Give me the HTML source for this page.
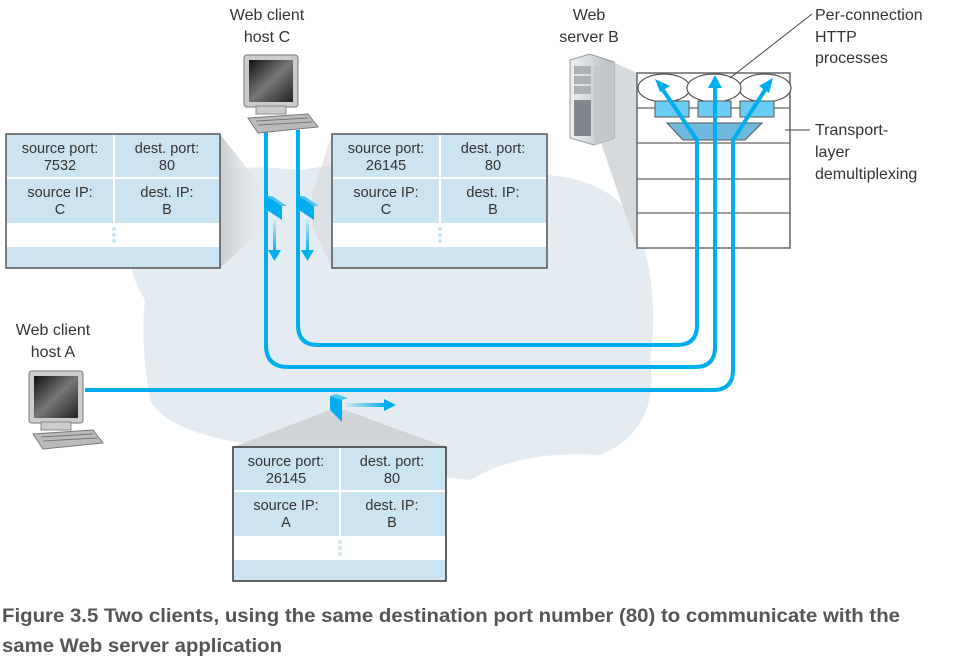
<!DOCTYPE html>
<html><head><meta charset="utf-8"><style>
html,body{margin:0;padding:0;background:#fff;}
svg{display:block;}
text{font-family:"Liberation Sans",sans-serif;}
</style></head><body>
<svg width="954" height="661" viewBox="0 0 954 661" xmlns="http://www.w3.org/2000/svg">
<defs>
<linearGradient id="scr" x1="0" y1="0" x2="1" y2="1"><stop offset="0" stop-color="#111"/><stop offset="0.5" stop-color="#777"/><stop offset="1" stop-color="#222"/></linearGradient>
<linearGradient id="shl" x1="0" y1="0" x2="1" y2="0"><stop offset="0" stop-color="#c8ccd0"/><stop offset="1" stop-color="#e8ecef" stop-opacity="0.3"/></linearGradient>
<linearGradient id="fadeD" x1="0" y1="0" x2="0" y2="1"><stop offset="0" stop-color="#00aeef" stop-opacity="0.1"/><stop offset="1" stop-color="#00aeef"/></linearGradient>
<linearGradient id="fadeR" x1="0" y1="0" x2="1" y2="0"><stop offset="0" stop-color="#00aeef" stop-opacity="0.1"/><stop offset="1" stop-color="#00aeef"/></linearGradient>
<linearGradient id="srv" x1="0" y1="0" x2="1" y2="0"><stop offset="0" stop-color="#eef0f2"/><stop offset="1" stop-color="#b5bbc0"/></linearGradient>
</defs>
<path d="M120 190 Q200 160 300 170 Q420 150 520 175 Q610 170 640 230 Q660 300 650 360 Q660 430 600 455 Q520 450 470 480 Q380 470 300 450 Q170 440 150 400 Q140 340 145 300 Q120 260 140 240 Q110 215 120 190Z" fill="#e4ecf2"/>
<polygon points="220,134 220,268 268,225 268,195" fill="url(#shl)"/>
<polygon points="332,134 332,268 312,225 312,195" fill="#d5d9dc" opacity="0.6"/>
<polygon points="233,447 446,447 345,410 330,410" fill="#d0d4d8"/>
<polygon points="613,62 637,73 637,248 600,140" fill="#d7dadc"/>
<g>
<rect x="6" y="134" width="214" height="134" fill="#cce4f1" stroke="#555" stroke-width="1.5"/>
<rect x="7" y="223" width="212" height="24" fill="#fff"/>
<line x1="7" y1="178" x2="219" y2="178" stroke="#fff" stroke-width="2"/>
<line x1="114" y1="135" x2="114" y2="223" stroke="#fff" stroke-width="2"/>
<circle cx="114" cy="229" r="2" fill="#cce4f1"/><circle cx="114" cy="235" r="2" fill="#cce4f1"/><circle cx="114" cy="241" r="2" fill="#cce4f1"/>
<g font-size="14.5" fill="#333" text-anchor="middle">
<text x="60" y="153">source port:</text><text x="60" y="170">7532</text>
<text x="167" y="153">dest. port:</text><text x="167" y="170">80</text>
<text x="60" y="197">source IP:</text><text x="60" y="214">C</text>
<text x="167" y="197">dest. IP:</text><text x="167" y="214">B</text>
</g></g>
<g>
<rect x="332" y="134" width="215" height="134" fill="#cce4f1" stroke="#555" stroke-width="1.5"/>
<rect x="333" y="223" width="213" height="24" fill="#fff"/>
<line x1="333" y1="178" x2="546" y2="178" stroke="#fff" stroke-width="2"/>
<line x1="440" y1="135" x2="440" y2="223" stroke="#fff" stroke-width="2"/>
<circle cx="440" cy="229" r="2" fill="#cce4f1"/><circle cx="440" cy="235" r="2" fill="#cce4f1"/><circle cx="440" cy="241" r="2" fill="#cce4f1"/>
<g font-size="14.5" fill="#333" text-anchor="middle">
<text x="386" y="153">source port:</text><text x="386" y="170">26145</text>
<text x="493" y="153">dest. port:</text><text x="493" y="170">80</text>
<text x="386" y="197">source IP:</text><text x="386" y="214">C</text>
<text x="493" y="197">dest. IP:</text><text x="493" y="214">B</text>
</g></g>
<g>
<rect x="233" y="447" width="213" height="134" fill="#cce4f1" stroke="#333" stroke-width="1.5"/>
<rect x="234" y="536" width="211" height="24" fill="#fff"/>
<line x1="234" y1="491" x2="445" y2="491" stroke="#fff" stroke-width="2"/>
<line x1="340" y1="448" x2="340" y2="536" stroke="#fff" stroke-width="2"/>
<circle cx="340" cy="542" r="2" fill="#cce4f1"/><circle cx="340" cy="548" r="2" fill="#cce4f1"/><circle cx="340" cy="554" r="2" fill="#cce4f1"/>
<g font-size="14.5" fill="#333" text-anchor="middle">
<text x="286" y="466">source port:</text><text x="286" y="483">26145</text>
<text x="392" y="466">dest. port:</text><text x="392" y="483">80</text>
<text x="286" y="510">source IP:</text><text x="286" y="527">A</text>
<text x="392" y="510">dest. IP:</text><text x="392" y="527">B</text>
</g></g>
<rect x="637" y="73" width="153" height="175" fill="#fff" stroke="#666" stroke-width="1.5"/>
<g stroke="#666" stroke-width="1.2"><line x1="637" y1="108" x2="790" y2="108"/><line x1="637" y1="143" x2="790" y2="143"/><line x1="637" y1="179" x2="790" y2="179"/><line x1="637" y1="213" x2="790" y2="213"/></g>
<g fill="#fff" stroke="#555" stroke-width="1.2">
<ellipse cx="664" cy="88" rx="26" ry="14"/><ellipse cx="765" cy="88" rx="26" ry="14"/><ellipse cx="714" cy="88" rx="27" ry="14"/>
</g>
<g fill="#6ccdf4" stroke="#555" stroke-width="1">
<rect x="655" y="101" width="34" height="16"/><rect x="698" y="101" width="33" height="16"/><rect x="740" y="101" width="34" height="16"/>
</g>
<polygon points="667,123 762,123 745,140 683,140" fill="#6fb9de" stroke="#555" stroke-width="1"/>
<g fill="none" stroke="#00aeef" stroke-width="4">
<path d="M298 130 V325 Q298 345 318 345 H677 Q697 345 697 325 V140 L663 90"/>
<path d="M266 130 V345 Q266 367 288 367 H695 Q715 367 715 347 V85"/>
<path d="M85 390 H713 Q733 390 733 370 V140 L765 90"/>
</g>
<g fill="#00aeef">
<polygon points="655,79 670,86 660,92"/>
<polygon points="715,75 722,88 708,88"/>
<polygon points="773,78 769,93 759,86"/>
</g>
<polygon points="267,196 282,206 282,220 267,210" fill="#00aeef"/>
<polygon points="267,196 272,196 287,206 282,206" fill="#4cc5f3"/>
<polygon points="299,196 314,206 314,220 299,210" fill="#00aeef"/>
<polygon points="299,196 304,196 319,206 314,206" fill="#4cc5f3"/>
<rect x="273" y="220" width="3" height="32" fill="url(#fadeD)"/>
<polygon points="268,250 281,250 274.5,261" fill="#00aeef"/>
<rect x="306" y="220" width="3" height="32" fill="url(#fadeD)"/>
<polygon points="301,250 314,250 307.5,261" fill="#00aeef"/>
<polygon points="330,396 342,400 342,422 330,410" fill="#00aeef"/>
<polygon points="330,396 336,394 348,398 342,400" fill="#4cc5f3"/>
<rect x="346" y="403" width="40" height="4" fill="url(#fadeR)"/>
<polygon points="384,399 396,405 384,411" fill="#00aeef"/>
<g id="pc">
<rect x="244" y="55" width="54" height="52" rx="3" fill="#ccc" stroke="#777"/>
<rect x="249" y="60" width="44" height="42" fill="url(#scr)"/>
<rect x="256" y="106" width="30" height="8" fill="#ccc" stroke="#888"/>
<polygon points="248,118 308,114 318,127 258,133" fill="#bbb" stroke="#777"/>
<line x1="256" y1="121" x2="308" y2="118" stroke="#777"/><line x1="258" y1="125" x2="312" y2="122" stroke="#777"/>
</g>
<use href="#pc" transform="translate(-215,316)"/>
<polygon points="570,60 590,54 614,62 614,138 594,145 570,138" fill="url(#srv)" stroke="#999"/>
<polygon points="594,66 614,62 614,138 594,145" fill="#c2c8cc"/>
<rect x="574" y="66" width="17" height="8" fill="#aab2b8"/><rect x="574" y="76" width="17" height="8" fill="#aab2b8"/><rect x="574" y="86" width="17" height="8" fill="#aab2b8"/>
<rect x="574" y="100" width="17" height="36" fill="#7f878c"/>
<g font-size="16" fill="#333" text-anchor="middle">
<text x="267" y="20">Web client</text><text x="267" y="42">host C</text>
<text x="589" y="20">Web</text><text x="589" y="42">server B</text>
<text x="53" y="335">Web client</text><text x="53" y="357">host A</text>
</g>
<g font-size="16" fill="#333">
<text x="815" y="20">Per-connection</text><text x="815" y="42">HTTP</text><text x="815" y="63">processes</text>
<text x="815" y="135">Transport-</text><text x="815" y="157">layer</text><text x="815" y="179">demultiplexing</text>
</g>
<line x1="730" y1="78" x2="812" y2="14" stroke="#444" stroke-width="1"/>
<line x1="785" y1="130" x2="810" y2="130" stroke="#444" stroke-width="1"/>
<g font-size="19" font-weight="bold" fill="#555">
<text x="2" y="622" textLength="898" lengthAdjust="spacingAndGlyphs">Figure 3.5 Two clients, using the same destination port number (80) to communicate with the</text>
<text x="2" y="652" textLength="280" lengthAdjust="spacingAndGlyphs">same Web server application</text>
</g>
</svg>
</body></html>
